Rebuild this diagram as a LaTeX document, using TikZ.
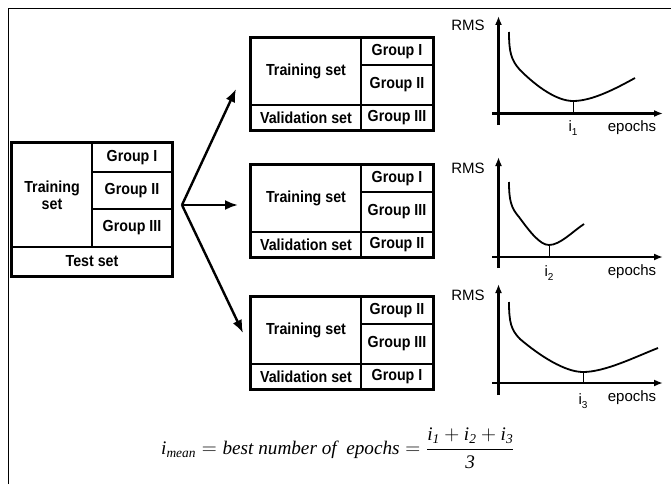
\documentclass[tikz,border=0pt]{standalone}
\usepackage{fontspec}
\usepackage{amsmath}
\setmainfont{Liberation Sans}
\newfontfamily\tablefont[FakeStretch=0.89]{Liberation Sans}
\newfontfamily\formulafont{Liberation Serif}
\usetikzlibrary{arrows.meta}

% a table cell given by its corners (x1,y1) and (x2,y2)
\newcommand\gridcell[6]{%
  \node[cell, minimum width={((#4)-(#2))*1pt}, minimum height={((#5)-(#3))*1pt}]
    (#1) at ({((#2)+(#4))/2},{((#3)+(#5))/2}) {#6};}

% one cross-validation split: prefix, top edge, two training groups, validation group
\newcommand\cvtable[5]{%
  \gridcell{#1train}{251}{#2}{361}{#2+67}{Training set}
  \gridcell{#1ga}{361}{#2}{433}{#2+27}{#3}
  \gridcell{#1gb}{361}{#2+27}{433}{#2+67}{#4}
  \gridcell{#1val}{251}{#2+67}{361}{#2+92}{Validation set}
  \gridcell{#1gv}{361}{#2+67}{433}{#2+92}{#5}
  \draw[line width=1.9pt] (#1train.north west) rectangle (#1gv.south east);}

\begin{document}
\begin{tikzpicture}[x=1pt,y=-1pt,
  cell/.style={draw, line width=1.3pt, inner sep=0pt, align=center,
    font=\tablefont\bfseries\fontsize{16}{17}\selectfont},
  bigarrow/.style={line width=2.4pt, -{Latex[length=13pt,width=10pt]}},
  axisline/.style={line width=2.4pt, -{Latex[length=9pt,width=7pt]}},
  curveline/.style={line width=1.8pt},
  tickline/.style={line width=0.9pt},
  axlabel/.style={font=\fontsize{15}{16}\selectfont, inner sep=0pt}]

\useasboundingbox (0,0) rectangle (671,484);
\fill[white] (0,0) rectangle (671,484);

% open frame along the top and the left
\draw[line width=1.9pt] (8.5,484) -- (8.5,8.5) -- (671,8.5);

% full data set
\gridcell{trainL}{12}{143}{92}{247}{Training\\set}
\gridcell{gaL}{92}{143}{172}{172}{Group I}
\gridcell{gbL}{92}{172}{172}{209}{Group II}
\gridcell{gcL}{92}{209}{172}{247}{Group III}
\gridcell{testL}{12}{247}{172}{276}{Test set}
\draw[line width=1.9pt] (trainL.north west) rectangle (testL.south east);

% the three splits
\cvtable{A}{38}{Group I}{Group II}{Group III}
\cvtable{B}{165}{Group I}{Group III}{Group II}
\cvtable{C}{297}{Group II}{Group III}{Group I}

% fan-out arrows
\coordinate (split) at (182,205);
\coordinate (tipA) at (236,89);
\coordinate (tipB) at (238,205);
\coordinate (tipC) at (243,333);
\draw[bigarrow] (split) -- (tipA);
\draw[bigarrow] (split) -- (tipB);
\draw[bigarrow] (split) -- (tipC);

% error curve 1
\draw[axisline] (498.5,125) -- (498.5,16);
\draw[axisline] (492,113.5) -- (663,113.5);
\node[axlabel] (rms1) at (468,25) {RMS};
\node[axlabel] (ep1) at (632,128) {epochs};
\node[axlabel] (i1) at (573,128) {i\raisebox{-4pt}{\fontsize{10}{10}\selectfont 1}};
\draw[curveline] (509,32) .. controls (509,52) and (511,60) .. (520,70)
  .. controls (537,87) and (557,101) .. (573,101)
  .. controls (592,101) and (615,89) .. (635,78);
\draw[tickline] (573,101) -- (573,113);

% error curve 2
\draw[axisline] (498.5,268) -- (498.5,157);
\draw[axisline] (492,257) -- (663,257);
\node[axlabel] (rms2) at (468,168) {RMS};
\node[axlabel] (ep2) at (632,272) {epochs};
\node[axlabel] (i2) at (549,273) {i\raisebox{-4pt}{\fontsize{10}{10}\selectfont 2}};
\draw[curveline] (509,182) .. controls (509,200) and (511,208) .. (519,217)
  .. controls (530,232) and (540,245) .. (549,245)
  .. controls (560,245) and (572,232) .. (584,224);
\draw[tickline] (549,245) -- (549,257);

% error curve 3
\draw[axisline] (498.5,395) -- (498.5,284);
\draw[axisline] (492,383) -- (663,383);
\node[axlabel] (rms3) at (468,295) {RMS};
\node[axlabel] (ep3) at (632,398) {epochs};
\node[axlabel] (i3) at (583,401) {i\raisebox{-4pt}{\fontsize{10}{10}\selectfont 3}};
\draw[curveline] (509,302) .. controls (509,322) and (511,330) .. (520,339)
  .. controls (540,356) and (565,372) .. (583,372)
  .. controls (605,372) and (635,357) .. (658,348);
\draw[tickline] (583,372) -- (583,383);

% averaging rule
\node[anchor=west, inner sep=0pt, font=\formulafont\fontsize{19.2}{22}\selectfont] (formula) at (161,448)
  {$\textit{i}_{\textit{mean}} = \textit{best number of\ \ epochs} =
    \dfrac{\textit{i}_{\textit{1}} + \textit{i}_{\textit{2}} + \textit{i}_{\textit{3}}}{\textit{3}}$};
\end{tikzpicture}
\end{document}
